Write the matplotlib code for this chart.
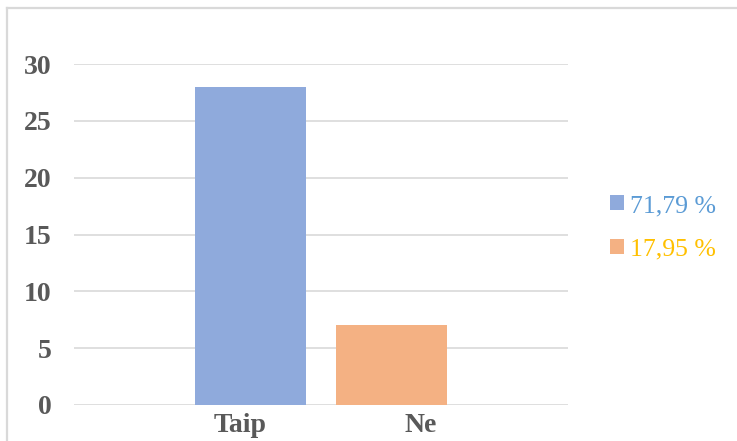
import matplotlib
matplotlib.use('Agg')
import matplotlib.pyplot as plt
from matplotlib.lines import Line2D

# Данные диаграммы
categories = ['Taip', 'Ne']
values = [28, 7]
legend_labels = ['71,79 %', '17,95 %']
bar_colors = ['#8FAADC', '#F4B183']
text_colors = ['#5B9BD5', '#FFC000']
y_ticks = [0, 5, 10, 15, 20, 25, 30]

plt.rcParams['font.family'] = ['Liberation Serif', 'DejaVu Serif']

fig = plt.figure(figsize=(7.37, 4.41), dpi=100, facecolor='white', edgecolor='white', linewidth=0)
ax = fig.add_axes([74 / 737, 1 - 405 / 441, (568 - 74) / 737, (405 - 64) / 441])

x = list(range(len(categories)))
bars = ax.bar(x, values, width=0.787, color=bar_colors, zorder=3)

ax.set_xlim(-1.252, 2.252)
ax.set_ylim(0, 30)
ax.set_yticks(y_ticks)
# подписи категорий в оригинале смещены относительно столбцов
ax.set_xticks([x[0] - 0.074, x[1] + 0.21])
ax.set_xticklabels(categories)
ax.grid(axis='y', color='#D9D9D9', linewidth=1.2, zorder=0)
ax.set_axisbelow(True)
for s in ax.spines.values():
    s.set_visible(False)
ax.tick_params(length=0)
ax.tick_params(axis='y', pad=16)
ax.tick_params(axis='x', pad=6)
for lab in ax.get_xticklabels() + ax.get_yticklabels():
    lab.set_fontsize(20)
    lab.set_fontweight('bold')
    lab.set_color('#595959')

# Легенда справа
leg = fig.legend(bars, legend_labels, loc='center left',
                 bbox_to_anchor=(600 / 737, 1 - 228 / 441),
                 frameon=False, fontsize=18.5, handlelength=0.52, handleheight=0.52,
                 handletextpad=0.25, labelspacing=0.85, borderaxespad=0)
for t, c in zip(leg.get_texts(), text_colors):
    t.set_color(c)

# Рамка вокруг диаграммы (правый и нижний края обрезаны)
fig.add_artist(Line2D([7 / 737, 7 / 737], [0, 1 - 8 / 441], transform=fig.transFigure,
                      color='#D9D9D9', linewidth=1.6))
fig.add_artist(Line2D([7 / 737, 1.01], [1 - 8 / 441, 1 - 8 / 441], transform=fig.transFigure,
                      color='#D9D9D9', linewidth=1.6))

fig.savefig('out.png', dpi=100, facecolor='white')
